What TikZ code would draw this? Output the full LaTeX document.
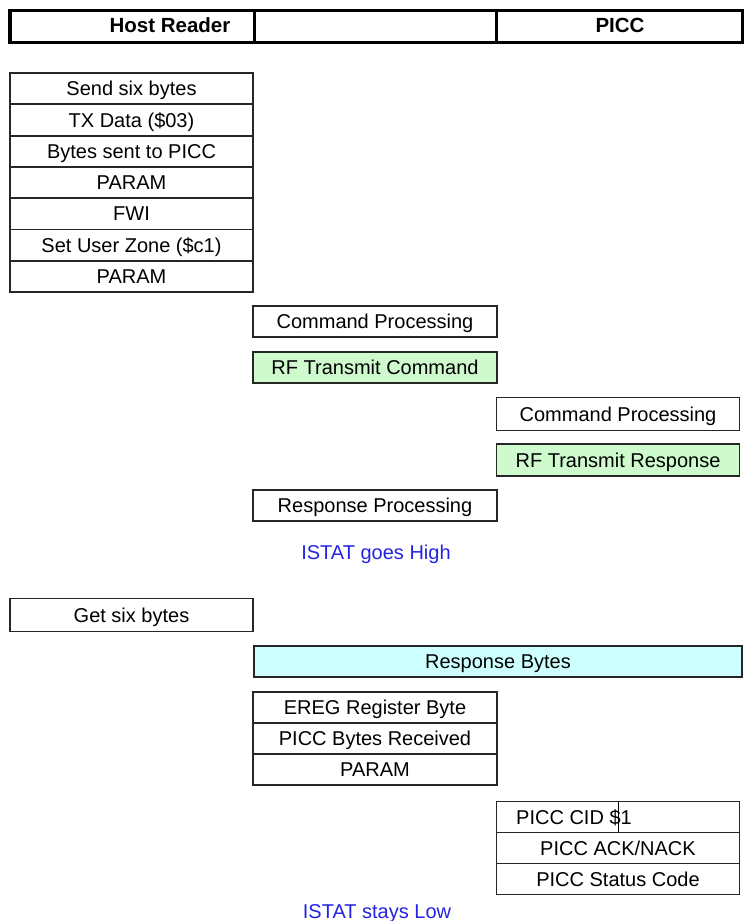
\documentclass[tikz,border=0pt]{standalone}
\usepackage{fontspec}
\setmainfont{Liberation Sans}
\definecolor{istat}{RGB}{35,35,225}
\definecolor{rfgreen}{RGB}{206,250,206}
\definecolor{rbcyan}{RGB}{206,255,255}
\begin{document}
\begin{tikzpicture}[x=1pt,y=-1pt,
  txt/.style={font=\fontsize{20}{21}\selectfont, text height=14.3pt, text depth=0pt},
  cell/.style={txt, draw=black!85, line width=1.6pt, inner sep=0pt, minimum height=31pt},
  lcell/.style={cell, minimum width=243pt},
  mcell/.style={cell, minimum width=244pt},
  rcell/.style={cell, minimum width=243pt},
  green/.style={fill=rfgreen},
  istatlbl/.style={txt, text=istat, inner sep=0pt},
  hdr/.style={font=\bfseries\fontsize{20.5}{21}\selectfont, text height=14.7pt, text depth=0pt, inner sep=0pt}]
\useasboundingbox (0,0) rectangle (746,921);
% header
\draw[line width=3pt] (9.5,10) rectangle (742,42);
\draw[line width=4pt] (10,10) -- (10,42);
\draw[line width=3pt] (254,10) -- (254,42);
\draw[line width=3pt] (496,10) -- (496,42);
\node[hdr] (host) at (170,25) {Host Reader};
\node[hdr] (picc) at (620,25) {PICC};
% first stack
\node[lcell] (s1) at (131.5,88.6)  {Send six bytes};
\node[lcell] (s2) at (131.5,119.9) {TX Data (\$03)};
\node[lcell] (s3) at (131.5,151.2) {Bytes sent to PICC};
\node[lcell] (s4) at (131.5,182.5) {PARAM};
\node[lcell] (s5) at (131.5,213.8) {FWI};
\node[lcell] (s6) at (131.5,245.1) {Set User Zone (\$c1)};
\node[lcell] (s7) at (131.5,276.4) {PARAM};
% processing
\node[mcell] (cp1) at (375,321.5) {Command Processing};
\node[mcell, green] (rftc) at (375,367.5) {RF Transmit Command};
\node[rcell, minimum height=33pt] (cp2) at (618,414) {Command Processing};
\node[rcell, green, minimum height=32pt] (rftr) at (618,460) {RF Transmit Response};
\node[mcell] (rp) at (375,505.5) {Response Processing};
\node[istatlbl] (high) at (376,552) {ISTAT goes High};
% response
\node[lcell, minimum height=33pt] (get) at (131.5,615) {Get six bytes};
\node[cell, fill=rbcyan, minimum width=488pt] (rb) at (498,661.5) {Response Bytes};
\node[mcell] (e1) at (375,707.5) {EREG Register Byte};
\node[mcell] (e2) at (375,738.5) {PICC Bytes Received};
\node[mcell] (e3) at (375,769.5) {PARAM};
\node[rcell] (p1) at (618,817) {};
\node[txt, anchor=west, inner sep=0pt] (p1t) at (516,817) {PICC CID \$1};
\draw[line width=0.8pt] (618.3,801.5) -- (618.3,832.5);
\node[rcell] (p2) at (618,848) {PICC ACK/NACK};
\node[rcell] (p3) at (618,879) {PICC Status Code};
\node[istatlbl] (low) at (377,911) {ISTAT stays Low};
\end{tikzpicture}
\end{document}
